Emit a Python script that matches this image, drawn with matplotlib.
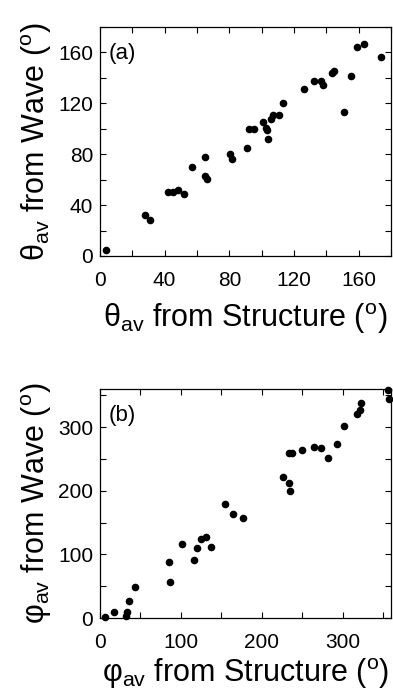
import numpy as np
import matplotlib
matplotlib.use('Agg')
import matplotlib.pyplot as plt
from matplotlib.ticker import MultipleLocator

# fonts: Helvetica-like look
plt.rcParams['font.family'] = ['Liberation Sans', 'DejaVu Sans']
plt.rcParams['mathtext.fontset'] = 'custom'
plt.rcParams['mathtext.rm'] = 'Liberation Sans'
plt.rcParams['mathtext.it'] = 'Liberation Sans'

# (a) theta_av: structure vs wave
theta_struct = [4, 28, 31, 42, 45, 48, 52, 57, 65, 65, 66, 80.5, 81.5, 91, 92, 95,
                101, 102.7, 103, 104, 106, 107, 111, 113, 126, 132.5, 136.5, 138,
                143.5, 145, 151, 155, 159, 163, 174]
theta_wave = [5, 32, 28, 50, 50, 52, 49, 70, 78, 63, 60.5, 80, 76.5, 85, 100, 100,
              105.5, 101, 99, 92, 108, 111, 110.5, 120, 131.5, 137.5, 137.5, 134.5,
              144, 145.5, 113.5, 141.5, 164.5, 166.5, 156.5]

# (b) phi_av: structure vs wave
phi_struct = [6, 17, 32, 34, 36, 43, 85, 86, 102, 116, 119.5, 124.5, 131.5, 137,
              155, 164, 177, 227, 233.5, 235.5, 234, 237, 250.5, 265, 273.5, 282,
              293, 302, 317.5, 321.5, 323.5, 356, 357.5]
phi_wave = [2, 9, 2.5, 10, 27.5, 49.5, 87.5, 56, 116, 91, 109.5, 124.5, 127, 111.5,
            179.5, 164, 156.5, 222, 212, 200, 259, 259, 264.5, 268.5, 267.5, 252,
            273, 302.5, 321, 327, 338.5, 359, 344]

fig = plt.figure(figsize=(3.93, 7.0), dpi=100)
ax1 = fig.add_axes([100 / 393, 1 - 256 / 700, 291 / 393, 229 / 700])
ax2 = fig.add_axes([100 / 393, 1 - 618 / 700, 291 / 393, 229 / 700])


def style_axes(ax, lim, major, minor):
    ax.set_xlim(0, lim)
    ax.set_ylim(0, lim)
    ax.xaxis.set_major_locator(MultipleLocator(major))
    ax.yaxis.set_major_locator(MultipleLocator(major))
    ax.xaxis.set_minor_locator(MultipleLocator(minor))
    ax.yaxis.set_minor_locator(MultipleLocator(minor))
    ax.tick_params(which='both', direction='in', top=True, right=True,
                   width=0.8, labelsize=15)
    ax.tick_params(which='major', length=4)
    ax.tick_params(which='minor', length=4)
    ax.tick_params(axis='x', pad=11)
    ax.tick_params(axis='y', pad=5)
    for sp in ax.spines.values():
        sp.set_linewidth(0.9)


# 绘制 (a)
ax1.scatter(theta_struct, theta_wave, s=20, color='black', zorder=3, clip_on=False)
style_axes(ax1, 180, 40, 20)
ax1.set_xlabel('θ$_{\\rm av}$ from Structure ($^{\\rm o}$)', fontsize=22, labelpad=8)
ax1.set_ylabel('θ$_{\\rm av}$ from Wave ($^{\\rm o}$)', fontsize=22, labelpad=3)
ax1.text(0.03, 0.93, '(a)', transform=ax1.transAxes, fontsize=16, va='top', ha='left')

# 绘制 (b)
ax2.scatter(phi_struct, phi_wave, s=20, color='black', zorder=3, clip_on=False)
style_axes(ax2, 360, 100, 50)
ax2.set_xlabel('φ$_{\\rm av}$ from Structure ($^{\\rm o}$)', fontsize=22, labelpad=3)
ax2.set_ylabel('φ$_{\\rm av}$ from Wave ($^{\\rm o}$)', fontsize=22, labelpad=3)
ax2.text(0.03, 0.93, '(b)', transform=ax2.transAxes, fontsize=16, va='top', ha='left')

fig.savefig('out.png', dpi=100)
